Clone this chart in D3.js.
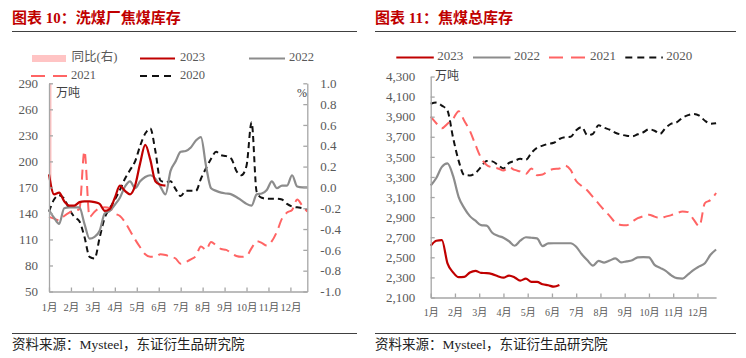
<!DOCTYPE html>
<html><head><meta charset="utf-8">
<script src="https://cdn.jsdelivr.net/npm/d3@7"></script>
<style>body{margin:0;background:#fff}svg{display:block}</style>
</head><body>
<svg id="c" width="746" height="358"></svg>
<script>
// ---------- DATA ----------
const monthLabels = ["1月","2月","3月","4月","5月","6月","7月","8月","9月","10月","11月","12月"];
const weekCount = 52;

// 图表10 洗煤厂焦煤库存 (万吨), weekly
const wash2023 = [185,162,164,154,149,149,153,154,154,153,151,143,145,158,172,166,162,172,198,219,202,177,173,172];
const wash2022 = [144,135,128,146,147,147,147,128,111,113,120,140,143,150,158,171,177,169,177,182,184,180,171,162,189,200,211,212,216,224,228,195,169,166,164,163,162,159,155,151,149,162,163,167,177,169,172,172,184,171,170,170];
const wash2021 = [136,134,132,137,141,143,145,212,136,142,146,147,146,140,137,130,120,110,101,93,90,90,93,92,90,88,82,84,87,91,102,98,107,103,99,98,94,91,90,91,100,108,106,103,108,119,134,141,144,156,149,142];
const wash2020 = [142,156,161,157,145,136,131,113,90,88,112,135,146,156,167,180,190,200,218,232,238,212,178,176,177,168,160,166,166,166,180,192,203,211,207,206,203,189,184,195,245,165,158,157,157,157,156,151,148,147,146,144];
const washYoY = [1.0];
const washLeftTicks = [50,80,110,140,170,200,230,260,290];
const washRightTicks = [-1.0,-0.8,-0.6,-0.4,-0.2,0.0,0.2,0.4,0.6,0.8,1.0];

// 图表11 焦煤总库存 (万吨), weekly
const total2023 = [2615,2665,2672,2440,2350,2302,2305,2348,2365,2345,2343,2333,2312,2297,2318,2300,2268,2288,2255,2255,2232,2222,2208,2225];
const total2022 = [3215,3290,3400,3435,3310,3100,2990,2910,2865,2820,2815,2745,2715,2695,2660,2615,2665,2700,2695,2688,2612,2638,2640,2640,2640,2640,2605,2530,2470,2418,2465,2448,2468,2490,2450,2460,2470,2500,2502,2500,2425,2395,2365,2320,2292,2288,2330,2375,2410,2442,2525,2578];
const total2021 = [3900,3835,3785,3830,3880,3955,3860,3760,3620,3490,3420,3395,3385,3365,3395,3370,3355,3330,3385,3318,3325,3360,3380,3385,3412,3370,3260,3210,3165,3100,3035,2970,2910,2845,2822,2818,2855,2890,2910,2925,2905,2890,2905,2920,2940,2955,2950,2875,2810,3040,3070,3140];
const total2020 = [4028,4040,4010,3960,3690,3460,3320,3315,3340,3400,3460,3455,3420,3385,3440,3460,3480,3470,3540,3590,3612,3630,3640,3678,3696,3700,3765,3796,3715,3730,3815,3790,3770,3740,3722,3710,3705,3725,3745,3775,3760,3730,3790,3830,3845,3890,3915,3928,3910,3860,3830,3835];
const totalTicks = [2100,2300,2500,2700,2900,3100,3300,3500,3700,3900,4100,4300];

// ---------- STYLE ----------
const FONT = "'Liberation Serif','Noto Sans CJK SC',serif";
const C23 = "#c00000", C22 = "#8c8c8c", C21 = "#ff6464", C20 = "#111111", CBAR = "#ffc4c4";
const AXIS = "#a6a6a6", TXT = "#595959";

const svg = d3.select("#c");

function header(x0, x1, title) {
  svg.append("text").attr("x", x0).attr("y", 20).attr("dominant-baseline","middle")
    .attr("font-family", FONT).attr("font-size", 15).attr("font-weight","bold")
    .attr("fill", "#c00000").text(title);
  svg.append("line").attr("x1", x0).attr("x2", x1).attr("y1", 31.5).attr("y2", 31.5)
    .attr("stroke", "#404040").attr("stroke-width", 1);
  svg.append("line").attr("x1", x0).attr("x2", x1).attr("y1", 333.5).attr("y2", 333.5)
    .attr("stroke", "#404040").attr("stroke-width", 1);
  svg.append("text").attr("x", x0).attr("y", 346).attr("dominant-baseline","middle")
    .attr("font-family", FONT).attr("font-size", 13.5).attr("fill", "#222")
    .text("资料来源：Mysteel，东证衍生品研究院");
}

function styleAxis(g) {
  g.selectAll("path.domain").attr("stroke", AXIS).attr("stroke-width", 1.3);
  g.selectAll(".tick line").attr("stroke", AXIS).attr("stroke-width", 1.3);
  g.selectAll(".tick text").attr("fill", TXT).attr("font-family", FONT);
}

function monthAxis(x, yPos, fontSize, labelY) {
  const g = svg.append("g").attr("transform", `translate(0,${yPos})`)
    .call(d3.axisBottom(x).tickValues(d3.range(12).map(i => i * weekCount / 12))
      .tickFormat((d, i) => monthLabels[i]).tickSize(-4).tickSizeOuter(0).tickPadding(labelY));
  styleAxis(g);
  g.selectAll(".tick text").attr("font-size", fontSize);
  return g;
}

function drawLine(x, y, data, color, width, dash) {
  const line = d3.line().defined(d => d != null)
    .x((d, i) => x(i)).y(d => y(d)).curve(d3.curveMonotoneX);
  svg.append("path").datum(data).attr("d", line).attr("fill", "none")
    .attr("stroke", color).attr("stroke-width", width)
    .attr("stroke-dasharray", dash || null).attr("stroke-linejoin","round");
}

function legendItem(x, y, len, label, color, width, dash, gap, fs) {
  svg.append("line").attr("x1", x).attr("x2", x + len).attr("y1", y).attr("y2", y)
    .attr("stroke", color).attr("stroke-width", width).attr("stroke-dasharray", dash || null);
  svg.append("text").attr("x", x + len + gap).attr("y", y).attr("dominant-baseline","middle")
    .attr("font-family", FONT).attr("font-size", fs).attr("fill", TXT).text(label);
}

// ---------- CHART 1 ----------
header(12, 357, "图表 10：洗煤厂焦煤库存");
{
  const x = d3.scaleLinear().domain([0, weekCount - 1]).range([49, 307.3]);
  const yL = d3.scaleLinear().domain([50, 290]).range([291.5, 83.3]);
  const yR = d3.scaleLinear().domain([-1, 1]).range([291.5, 83.3]);

  // YoY bar
  svg.append("g").selectAll("rect").data(washYoY).join("rect")
    .attr("x", (d, i) => x(i)).attr("width", 2.5)
    .attr("y", d => yR(Math.max(d, 0))).attr("height", d => Math.abs(yR(d) - yR(0)))
    .attr("fill", CBAR);

  drawLine(x, yL, wash2020, C20, 2, "6,4");
  drawLine(x, yL, wash2021, C21, 2, "10,6");
  drawLine(x, yL, wash2022, C22, 2.2);
  drawLine(x, yL, wash2023, C23, 2.2);

  const gl = svg.append("g").attr("transform", "translate(49,0)")
    .call(d3.axisLeft(yL).tickValues(washLeftTicks).tickSize(-4).tickSizeOuter(0).tickPadding(11));
  styleAxis(gl); gl.selectAll(".tick text").attr("font-size", 13);
  const gr = svg.append("g").attr("transform", "translate(307.3,0)")
    .call(d3.axisRight(yR).tickValues(washRightTicks).tickFormat(d3.format(".1f"))
      .tickSize(-4).tickSizeOuter(0).tickPadding(13));
  styleAxis(gr); gr.selectAll(".tick text").attr("font-size", 13).text(d => d3.format(".1f")(d).replace("−", "-"));
  monthAxis(x, 291.5, 10.5, 12);

  svg.append("text").attr("x", 56).attr("y", 94).attr("dominant-baseline","middle")
    .attr("font-family", FONT).attr("font-size", 12).attr("fill", "#404040").text("万吨");
  svg.append("text").attr("x", 297).attr("y", 94).attr("dominant-baseline","middle")
    .attr("font-family", FONT).attr("font-size", 12).attr("fill", "#404040").text("%");

  // legend
  svg.append("rect").attr("x", 32).attr("y", 55).attr("width", 34).attr("height", 7).attr("fill", CBAR);
  svg.append("text").attr("x", 71.5).attr("y", 58.5).attr("dominant-baseline","middle")
    .attr("font-family", FONT).attr("font-size", 12.5).attr("fill", TXT).text("同比(右)");
  legendItem(140, 58.5, 35, "2023", C23, 2.2, null, 5, 12.5);
  legendItem(249, 58.5, 36, "2022", C22, 2.2, null, 4, 12.5);
  legendItem(31, 76, 36, "2021", C21, 2, "14,8", 4, 12.5);
  legendItem(140, 76, 36, "2020", C20, 2, "7,5", 4, 12.5);
}

// ---------- CHART 2 ----------
header(375, 736, "图表 11：焦煤总库存");
{
  const x = d3.scaleLinear().domain([0, weekCount - 1]).range([430.7, 716.1]);
  const y = d3.scaleLinear().domain([2100, 4300]).range([297.5, 76.5]);

  drawLine(x, y, total2020, C20, 2, "6,4");
  drawLine(x, y, total2021, C21, 2, "10,6");
  drawLine(x, y, total2022, C22, 2.2);
  drawLine(x, y, total2023, C23, 2.2);

  const gl = svg.append("g").attr("transform", "translate(430.7,0)")
    .call(d3.axisLeft(y).tickValues(totalTicks).tickFormat(d3.format(",")).tickSize(-4).tickSizeOuter(0).tickPadding(15.5));
  styleAxis(gl); gl.selectAll(".tick text").attr("font-size", 13);
  monthAxis(x, 297.5, 10, 11);

  svg.append("text").attr("x", 435).attr("y", 77).attr("dominant-baseline","middle")
    .attr("font-family", FONT).attr("font-size", 12).attr("fill", "#404040").text("万吨");

  legendItem(396.3, 57.5, 37.5, "2023", C23, 2.2, null, 3.5, 13);
  legendItem(473, 57.5, 37.5, "2022", C22, 2.2, null, 3.5, 13);
  legendItem(549, 57.5, 37.5, "2021", C21, 2, "14,8", 3.5, 13);
  legendItem(625.3, 57.5, 37.5, "2020", C20, 2, "7,5", 3.5, 13);
}
</script>
</body></html>
